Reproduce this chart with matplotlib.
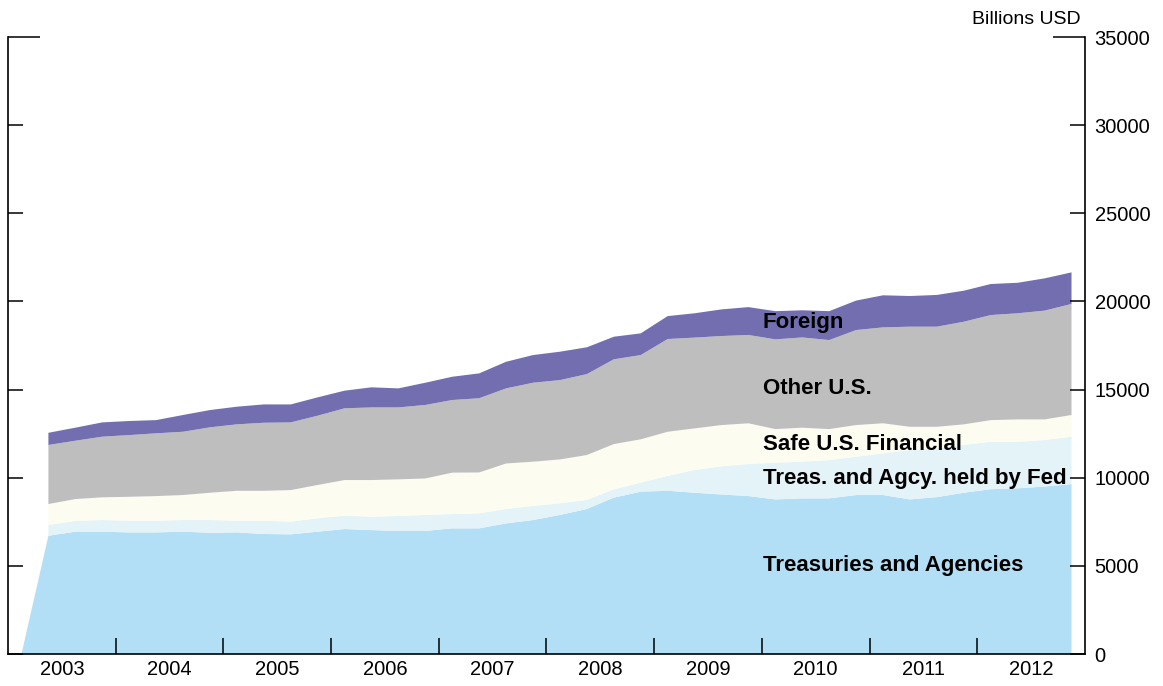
import numpy as np
import pandas as pd
import matplotlib
matplotlib.use("Agg")
import matplotlib.pyplot as plt
from matplotlib.ticker import FixedLocator, NullFormatter, FixedFormatter

plt.rcParams['font.family'] = ['Liberation Sans', 'DejaVu Sans']

# quarterly observations, 2003Q1 - 2012Q4 (first quarter only has treasuries = 0)
quarters = pd.period_range('2003Q1', '2012Q4', freq='Q')

# cumulative levels (billions USD)
top_treasuries = [0,
    6710, 6940, 6940, 6900, 6900, 6940, 6880, 6900, 6810, 6790,
    6940, 7090, 7030, 6980, 6980, 7130, 7130, 7410, 7600, 7890,
    8230, 8870, 9210, 9260, 9150, 9050, 8960, 8770, 8830, 8830,
    9020, 9020, 8770, 8900, 9150, 9350, 9400, 9500, 9640]
top_fed = [np.nan,
    7320, 7550, 7600, 7560, 7560, 7600, 7600, 7560, 7560, 7510,
    7700, 7850, 7790, 7830, 7890, 7940, 7980, 8230, 8400, 8550,
    8740, 9340, 9720, 10100, 10440, 10650, 10780, 10850, 10910, 11000,
    11190, 11380, 11570, 11670, 11860, 12040, 12040, 12140, 12330]
top_safe = [np.nan,
    8510, 8790, 8890, 8920, 8960, 9020, 9150, 9260, 9260, 9300,
    9590, 9870, 9870, 9910, 9960, 10290, 10300, 10810, 10910, 11040,
    11290, 11910, 12180, 12610, 12800, 12990, 13090, 12760, 12840, 12760,
    12990, 13090, 12890, 12890, 13030, 13270, 13310, 13310, 13560]
top_other = [np.nan,
    11860, 12100, 12330, 12420, 12520, 12610, 12860, 13030, 13120, 13140,
    13520, 13940, 13990, 13990, 14130, 14410, 14510, 15070, 15390, 15540,
    15880, 16720, 16960, 17870, 17950, 18040, 18100, 17850, 17960, 17810,
    18380, 18530, 18570, 18570, 18850, 19230, 19330, 19480, 19860]
top_foreign = [np.nan,
    12550, 12840, 13140, 13220, 13270, 13560, 13840, 14030, 14160, 14160,
    14560, 14940, 15130, 15070, 15390, 15730, 15920, 16580, 16960, 17150,
    17400, 18000, 18190, 19170, 19330, 19550, 19680, 19450, 19500, 19450,
    20050, 20350, 20310, 20370, 20610, 20990, 21060, 21310, 21650]

top_treasuries = np.array(top_treasuries, dtype=float)
top_fed = np.array(top_fed, dtype=float)
top_safe = np.array(top_safe, dtype=float)
top_other = np.array(top_other, dtype=float)
top_foreign = np.array(top_foreign, dtype=float)

# layer thicknesses
treasuries = top_treasuries
held_by_fed = top_fed - top_treasuries
safe_financial = top_safe - top_fed
other_us = top_other - top_safe
foreign = top_foreign - top_other

labels = ['Treasuries and Agencies', 'Treas. and Agcy. held by Fed',
          'Safe U.S. Financial', 'Other U.S.', 'Foreign']
colors = ['#b2dff5', '#e3f3f8', '#fcfcf1', '#bebebe', '#736eb0']

x = quarters.year + (quarters.quarter - 0.5) / 4.0

fig = plt.figure(figsize=(11.63, 6.86), dpi=100)
ax = fig.add_axes([0.0069, 0.0466, 0.926, 0.8994])

ax.stackplot(x, treasuries, held_by_fed, safe_financial, other_us, foreign,
             colors=colors, linewidth=0)

ax.set_xlim(2003, 2013)
ax.set_ylim(0, 35000)

# label positions
label_x = 2010.01
label_y = [5050, 9980, 11910, 15090, 18830]
for name, ly in zip(labels, label_y):
    ax.text(label_x, ly, name, fontsize=16, fontweight='bold',
            va='center', ha='left', color='black')

# axes styling
ax.spines['top'].set_visible(False)
for s in ['left', 'right', 'bottom']:
    ax.spines[s].set_linewidth(1.2)

ax.xaxis.set_major_locator(FixedLocator(np.arange(2004, 2013)))
ax.xaxis.set_major_formatter(NullFormatter())
ax.xaxis.set_minor_locator(FixedLocator(np.arange(2003.5, 2013, 1.0)))
ax.xaxis.set_minor_formatter(FixedFormatter([str(y) for y in range(2003, 2013)]))
ax.tick_params(axis='x', which='major', direction='in', length=11.5, width=1.1)
ax.tick_params(axis='x', which='minor', length=0, labelsize=14.5, pad=4)

yt = np.arange(0, 35001, 5000)
ax.set_yticks(yt)
ax.set_yticklabels([str(v) for v in yt])
ax.tick_params(axis='y', direction='in', length=11, width=1.1,
               left=True, right=True, labelleft=False, labelright=True,
               labelsize=14.5, pad=7)
# longer tick at the top of both axes
top_tick = ax.yaxis.get_major_ticks()[-1]
top_tick.tick1line.set_markersize(23)
top_tick.tick2line.set_markersize(23)

fig.text(1081 / 1163, 1 - 20 / 686, 'Billions USD', ha='right', va='center',
         fontsize=14)

fig.savefig('out.png', dpi=100)
